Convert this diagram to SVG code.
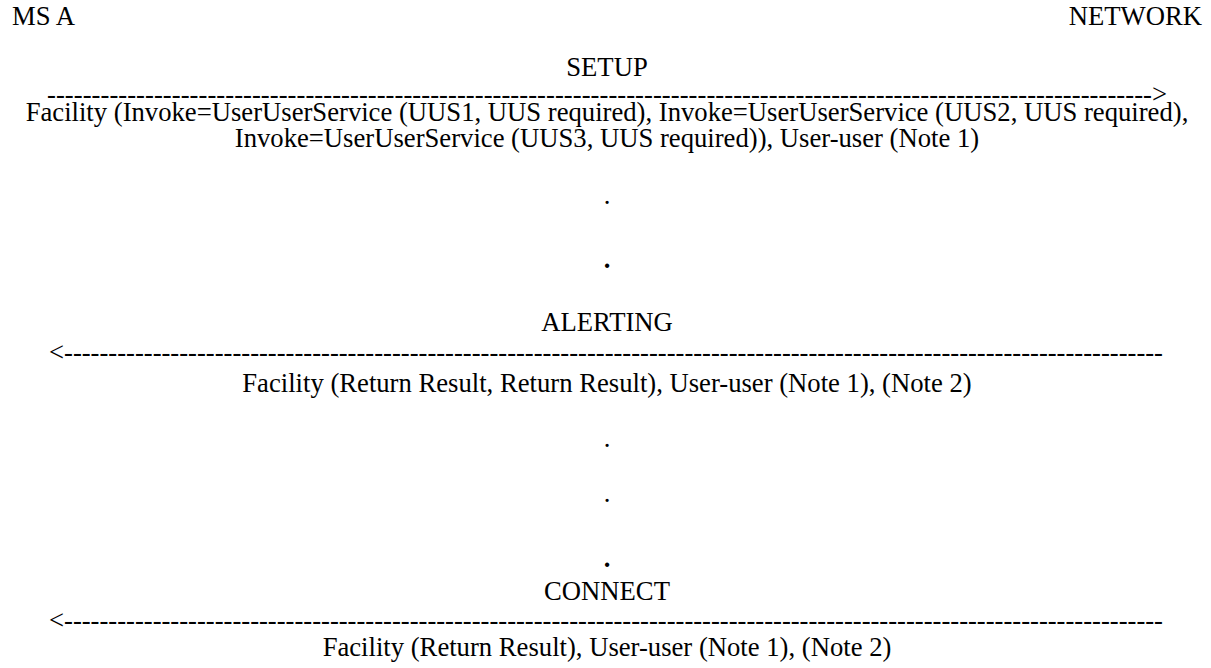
<svg xmlns="http://www.w3.org/2000/svg" width="1211" height="668" viewBox="0 0 1211 668">
<style>
text{font-family:"Liberation Serif","Times New Roman",serif;font-size:26.67px;fill:#000}
.c{text-anchor:middle}
.b{font-weight:bold}
</style>
<rect width="1211" height="668" fill="#fff"/>
<g id="ms-a"><text x="12" y="25">MS A</text></g>
<g id="network"><text x="1202" y="25" text-anchor="end">NETWORK</text></g>
<g id="connectors">
<text x="47" y="103" textLength="1120" lengthAdjust="spacing">----------------------------------------------------------------------------------------------------------------------------&gt;</text>
<text x="49" y="361" textLength="1114" lengthAdjust="spacing">&lt;----------------------------------------------------------------------------------------------------------------------------</text>
<text x="49" y="628.5" textLength="1114" lengthAdjust="spacing">&lt;----------------------------------------------------------------------------------------------------------------------------</text>
</g>
<g id="setup">
<text class="c" x="607" y="76">SETUP</text>
<text class="c" x="607" y="121">Facility (Invoke=UserUserService (UUS1, UUS required), Invoke=UserUserService (UUS2, UUS required),</text>
<text class="c" x="607" y="147">Invoke=UserUserService (UUS3, UUS required)), User-user (Note 1)</text>
</g>
<g id="dots1">
<text class="c" x="607" y="203.5">.</text>
<text class="c b" x="607" y="268">.</text>
</g>
<g id="alerting">
<text class="c" x="607" y="331">ALERTING</text>
<text class="c" x="607" y="392">Facility (Return Result, Return Result), User-user (Note 1), (Note 2)</text>
</g>
<g id="dots2">
<text class="c" x="607" y="446.5">.</text>
<text class="c" x="607" y="501.5">.</text>
<text class="c b" x="607" y="566.5">.</text>
</g>
<g id="connect">
<text class="c" x="607" y="600">CONNECT</text>
<text class="c" x="607" y="656">Facility (Return Result), User-user (Note 1), (Note 2)</text>
</g>
</svg>
